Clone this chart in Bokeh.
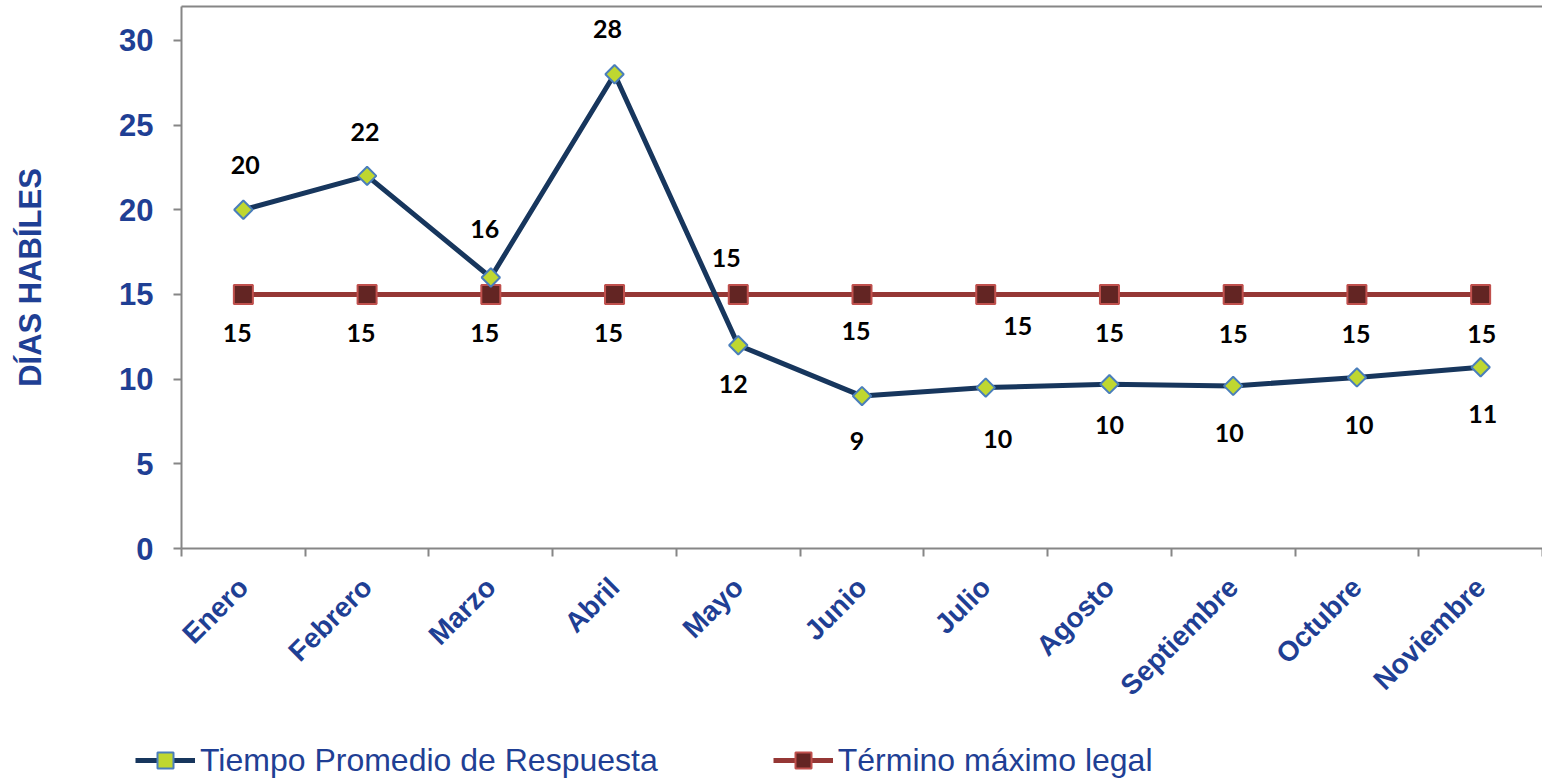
import math
from bokeh.plotting import figure
from bokeh.models import ColumnDataSource, FixedTicker, Legend, LegendItem, Range1d, LinearAxis
from bokeh.core.properties import value
from bokeh.embed import file_html
from bokeh.resources import INLINE

# ---- data ----
months = ["Enero", "Febrero", "Marzo", "Abril", "Mayo", "Junio", "Julio",
          "Agosto", "Septiembre", "Octubre", "Noviembre"]
tiempo = [20, 22, 16, 28, 12, 9, 9.5, 9.7, 9.6, 10.1, 10.7]
tiempo_labels = ["20", "22", "16", "28", "12", "9", "10", "10", "10", "10", "11"]
termino = [15, 15, 15, 15, 15, 15, 15, 15, 15, 15, 15]
termino_labels = ["15", "15", "15", "15", "15", "15", "15", "15", "15", "15", "15"]
y_ticks = [0, 5, 10, 15, 20, 25, 30]
series_names = ["Tiempo Promedio de Respuesta", "Término máximo legal"]

# ---- label placement (pixel offsets, styling only) ----
t_dx = [2, -2, -6, -7, -5, -5, 12, 0, -4, 2, 2]
t_dy = [-45, -44, -49, -45, 39, 45, 51, 41, 47, 48, 47]
m_dx = [-6, -6, -6, -6, -12, -6, 32, 0, 0, -1, 1]
m_dy = [39, 39, 39, 39, -36, 37, 32, 39, 40, 40, 40]

BLUE = "#1F3F94"
AXIS = "#868686"
T_LINE = dict(line_color="#17365D", line_width=5)
T_MARK = dict(marker="square", angle=math.pi / 4, size=13,
              fill_color="#BFD730", line_color="#4A7EBB", line_width=2)
M_LINE = dict(line_color="#953735", line_width=5)
M_MARK = dict(marker="square", size=19, fill_color="#632523",
              line_color="#C0504D", line_width=2)

xs = [i + 0.5 for i in range(len(months))]
src_t = ColumnDataSource(dict(x=xs, y=tiempo, lab=tiempo_labels, dx=t_dx, dy=t_dy))
src_m = ColumnDataSource(dict(x=xs, y=termino, lab=termino_labels, dx=m_dx, dy=m_dy))

p = figure(width=1542, height=715, output_backend="svg", toolbar_location=None,
           x_range=Range1d(0, len(months)), y_range=Range1d(0, 32),
           min_border_left=181, min_border_right=0, min_border_top=6,
           min_border_bottom=166)
p.xgrid.visible = False
p.ygrid.visible = False
p.outline_line_color = None
p.background_fill_color = "white"
p.border_fill_color = "white"

# lines and markers
p.line("x", "y", source=src_m, **M_LINE)
p.scatter("x", "y", source=src_m, **M_MARK)
p.line("x", "y", source=src_t, **T_LINE)
p.scatter("x", "y", source=src_t, **T_MARK)

# data labels
for src in (src_t, src_m):
    p.text("x", "y", text="lab", source=src, x_offset="dx", y_offset="dy",
           text_font=value("Lato"), text_font_style="bold", text_font_size="25px",
           text_align="center", text_baseline="middle", text_color="black")

# y axis
ya = p.left[0]
ya.ticker = FixedTicker(ticks=y_ticks)
ya.axis_line_color = AXIS
ya.axis_line_width = 2
ya.major_tick_line_color = AXIS
ya.major_tick_line_width = 2
ya.major_tick_out = 8
ya.major_tick_in = 0
ya.minor_tick_line_color = None
ya.major_label_standoff = 20
ya.major_label_text_font = "Liberation Sans"
ya.major_label_text_font_style = "bold"
ya.major_label_text_font_size = "31px"
ya.major_label_text_color = BLUE
ya.axis_label = "DÍAS HABÍLES"
ya.axis_label_text_font = "Liberation Sans"
ya.axis_label_text_font_style = "bold"
ya.axis_label_text_font_size = "31px"
ya.axis_label_text_color = BLUE
ya.axis_label_standoff = 68

# x axis (bottom)
xa = p.below[0]
xa.ticker = FixedTicker(ticks=xs, minor_ticks=list(range(len(months) + 1)))
xa.major_label_overrides = {x: m for x, m in zip(xs, months)}
xa.axis_line_color = AXIS
xa.axis_line_width = 2
xa.major_tick_line_color = None
xa.major_tick_out = 0
xa.major_tick_in = 0
xa.minor_tick_line_color = AXIS
xa.minor_tick_line_width = 2
xa.minor_tick_out = 8
xa.minor_tick_in = 0
xa.major_label_orientation = math.pi / 4
xa.major_label_standoff = 26
xa.major_label_text_font = "Liberation Sans"
xa.major_label_text_font_style = "bold"
xa.major_label_text_font_size = "28px"
xa.major_label_text_color = BLUE

# top border line of the plot area (no ticks, no labels)
top = LinearAxis(ticker=FixedTicker(ticks=[], minor_ticks=[]), axis_line_color=AXIS,
                 axis_line_width=2, major_tick_line_color=None,
                 minor_tick_line_color=None, major_tick_out=0, major_tick_in=0,
                 minor_tick_out=0, minor_tick_in=0, major_label_standoff=0,
                 major_label_text_font_size="0px")
p.add_layout(top, "above")

# ---- legend strip below the chart (series drawn out of view, legend only) ----
lf = figure(width=1542, height=65, output_backend="svg", toolbar_location=None,
            x_range=Range1d(0, len(months)), y_range=Range1d(-20, -10), min_border=0,
            x_axis_location=None, y_axis_location=None)
lf.xgrid.visible = False
lf.ygrid.visible = False
lf.outline_line_color = None
g1 = [lf.line("x", "y", source=src_t, **T_LINE),
      lf.scatter("x", "y", source=src_t, **T_MARK)]
g2 = [lf.line("x", "y", source=src_m, **M_LINE),
      lf.scatter("x", "y", source=src_m, **M_MARK)]
legend = Legend(items=[LegendItem(label=series_names[0], renderers=g1, index=0),
                       LegendItem(label=series_names[1], renderers=g2, index=0)],
                location=(135, 0), orientation="horizontal", glyph_width=60,
                glyph_height=40, label_standoff=5, spacing=115, padding=0, margin=0,
                border_line_color=None, background_fill_alpha=0,
                label_text_font="Liberation Sans", label_text_font_size="32px",
                label_text_color=BLUE, label_height=40)
lf.add_layout(legend)

open("out.html", "w").write(file_html([p, lf], INLINE))
